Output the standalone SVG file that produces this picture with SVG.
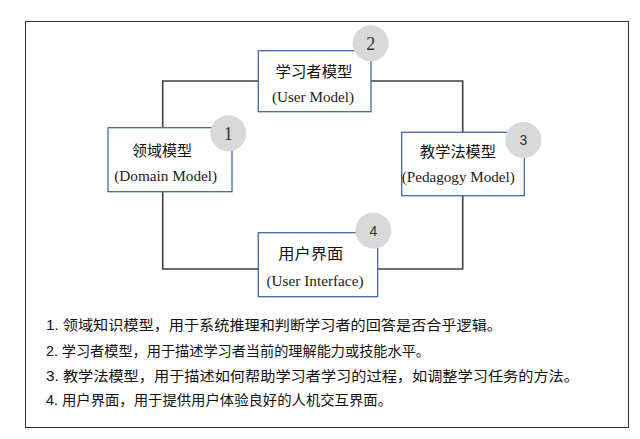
<svg xmlns="http://www.w3.org/2000/svg" width="640" height="439" viewBox="0 0 640 439">
<style>
.box{fill:#fff;stroke:#3f67b0;stroke-width:1.3}
.badge{fill:#d9d9d9}
.cn{font-family:"Liberation Sans","Noto Sans CJK SC",sans-serif;font-size:15px;fill:#111;text-anchor:middle}
.en{font-family:"Liberation Serif",serif;font-size:15px;fill:#222;text-anchor:middle}
.numS{font-family:"Liberation Serif",serif;font-size:18px;fill:#333;text-anchor:middle}
.numA{font-family:"Liberation Sans",sans-serif;font-size:14px;fill:#333;text-anchor:middle}
.note{font-family:"Liberation Sans","Noto Sans CJK SC",sans-serif;font-size:14px;fill:#111}
.conn{fill:none;stroke:#404040;stroke-width:1.6}
</style>
<rect x="0" y="0" width="640" height="439" fill="#fff"/>
<rect x="25.5" y="21.5" width="603" height="406" fill="#fff" stroke="#333" stroke-width="1"/>
<g id="connectors">
<path class="conn" d="M162.7,127.7 V81 H258.3"/>
<path class="conn" d="M371,81 H462.7 V132.3"/>
<path class="conn" d="M462.7,195.7 V269 H377.7"/>
<path class="conn" d="M258.3,269 H162.7 V191.7"/>
</g>
<g id="node-user-model">
<rect class="box" x="258.3" y="50.7" width="112.7" height="61"/>
<text class="cn" x="314" y="77" textLength="77" lengthAdjust="spacingAndGlyphs">学习者模型</text>
<text class="en" x="313" y="102" textLength="82" lengthAdjust="spacingAndGlyphs">(User Model)</text>
<circle class="badge" cx="370.7" cy="43.3" r="18"/>
<text class="numS" x="370.7" y="49.5">2</text>
</g>
<g id="node-domain-model">
<rect class="box" x="108" y="127.7" width="124" height="64"/>
<text class="cn" x="162" y="155.5" textLength="60" lengthAdjust="spacingAndGlyphs">领域模型</text>
<text class="en" x="165.7" y="180.5" textLength="103" lengthAdjust="spacingAndGlyphs">(Domain Model)</text>
<circle class="badge" cx="228.3" cy="133.3" r="18"/>
<text class="numS" x="228.3" y="139.5">1</text>
</g>
<g id="node-pedagogy-model">
<rect class="box" x="401.7" y="132.3" width="122.6" height="63.4"/>
<text class="cn" x="458" y="157" textLength="76" lengthAdjust="spacingAndGlyphs">教学法模型</text>
<text class="en" x="458.3" y="182" textLength="113" lengthAdjust="spacingAndGlyphs">(Pedagogy Model)</text>
<circle class="badge" cx="523.3" cy="140" r="18"/>
<text class="numA" x="523.3" y="145">3</text>
</g>
<g id="node-user-interface">
<rect class="box" x="258.3" y="232.7" width="119.4" height="64"/>
<text class="cn" x="310.8" y="258.5" textLength="65" lengthAdjust="spacingAndGlyphs">用户界面</text>
<text class="en" x="315" y="286" textLength="97" lengthAdjust="spacingAndGlyphs">(User Interface)</text>
<circle class="badge" cx="373.3" cy="230.7" r="18"/>
<text class="numA" x="373.3" y="235.7">4</text>
</g>
<g id="notes">
<text class="note" x="46" y="330" textLength="456" lengthAdjust="spacingAndGlyphs">1. 领域知识模型，用于系统推理和判断学习者的回答是否合乎逻辑。</text>
<text class="note" x="46" y="355.5" textLength="384" lengthAdjust="spacingAndGlyphs">2. 学习者模型，用于描述学习者当前的理解能力或技能水平。</text>
<text class="note" x="46" y="380.5" textLength="533" lengthAdjust="spacingAndGlyphs">3. 教学法模型，用于描述如何帮助学习者学习的过程，如调整学习任务的方法。</text>
<text class="note" x="46" y="405" textLength="346" lengthAdjust="spacingAndGlyphs">4. 用户界面，用于提供用户体验良好的人机交互界面。</text>
</g>
</svg>
